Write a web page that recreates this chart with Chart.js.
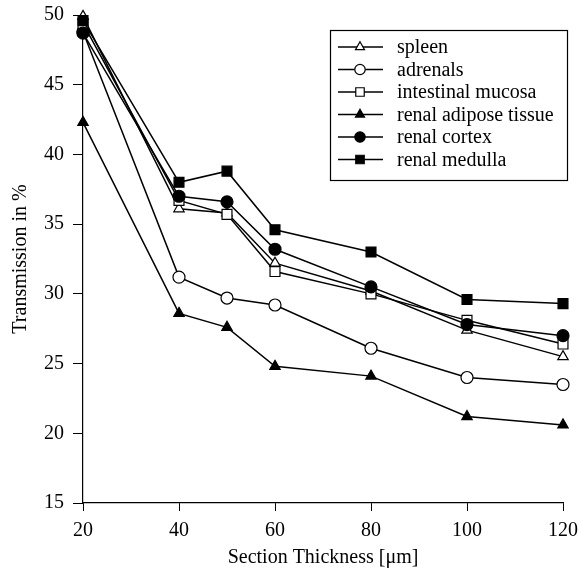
<!DOCTYPE html>
<html>
<head>
<meta charset="utf-8">
<script src="https://cdn.jsdelivr.net/npm/chart.js@4/dist/chart.umd.min.js"></script>
<style>
  body { margin: 0; background: #fff; }
  canvas { display: block; }
</style>
</head>
<body>
<canvas id="chart" width="578" height="572"></canvas>
<script>
// -----Data
var thickness = [20, 40, 50, 60, 80, 100, 120]
var xTicks = [20, 40, 60, 80, 100, 120]
var yTicks = [15, 20, 25, 30, 35, 40, 45, 50]

var spleen = [49.9, 36.1, 35.8, 32.2, 30.2, 27.4, 25.5]
var adrenals = [48.8, 31.2, 29.7, 29.2, 26.1, 24.0, 23.5]
var intestinalMucosa = [49.4, 36.7, 35.7, 31.6, 30.0, 28.1, 26.4]
var renalAdipose = [42.3, 28.6, 27.6, 24.8, 24.1, 21.2, 20.6]
var renalCortex = [48.7, 37.0, 36.6, 33.2, 30.5, 27.8, 27.0]
var renalMedulla = [49.6, 38.0, 38.8, 34.6, 33.0, 29.6, 29.3]

var seriesNames = ['spleen', 'adrenals', 'intestinal mucosa', 'renal adipose tissue', 'renal cortex', 'renal medulla']

var FONT = 'Liberation Serif'

// -----Build datasets
function makeSet(label, values, style, filled, order) {
  return {
    label: label,
    data: values.map(function (v, i) { return { x: thickness[i], y: v } }),
    borderColor: '#000',
    borderWidth: 1.5,
    pointStyle: style,
    pointRadius: style === 'rect' ? 7 : 6,
    pointBorderWidth: 1.2,
    pointBorderColor: '#000',
    pointBackgroundColor: filled ? '#000' : '#fff',
    tension: 0,
    fill: false,
    clip: false,
    order: order   // lower order is drawn on top
  }
}

var datasets = [
  makeSet(seriesNames[0], spleen, 'triangle', false, 5),
  makeSet(seriesNames[1], adrenals, 'circle', false, 4),
  makeSet(seriesNames[2], intestinalMucosa, 'rect', false, 3),
  makeSet(seriesNames[3], renalAdipose, 'triangle', true, 2),
  makeSet(seriesNames[4], renalCortex, 'circle', true, 1),
  makeSet(seriesNames[5], renalMedulla, 'rect', true, 0)
]

// -----Boxed legend like the original figure
var boxLegend = {
  id: 'boxLegend',
  afterDraw: function (chart) {
    var ctx = chart.ctx
    var left = 330, top = 30, w = 237, h = 150
    ctx.save()
    ctx.strokeStyle = '#000'
    ctx.lineWidth = 1.2
    ctx.strokeRect(left + 0.5, top + 0.5, w, h)
    ctx.font = '20px "' + FONT + '"'
    ctx.textBaseline = 'middle'
    chart.data.datasets.forEach(function (ds, i) {
      var y = top + 17 + i * 22.5
      ctx.beginPath()
      ctx.moveTo(338, y)
      ctx.lineTo(383, y)
      ctx.lineWidth = 1.5
      ctx.strokeStyle = '#000'
      ctx.stroke()
      ctx.fillStyle = ds.pointBackgroundColor
      ctx.lineWidth = 1.2
      Chart.helpers.drawPoint(ctx, {
        pointStyle: ds.pointStyle,
        radius: ds.pointStyle === 'rect' ? 6 : 5.2,
        rotation: 0,
        borderWidth: 1.2
      }, 360, y)
      ctx.fillStyle = '#000'
      ctx.fillText(ds.label, 397, y + 1)
    })
    ctx.restore()
  }
}

// -----Chart
var ctx = document.getElementById('chart')
var myChart = new Chart(ctx, {
  type: 'line',
  data: { datasets: datasets },
  plugins: [boxLegend],
  options: {
    responsive: false,
    animation: false,
    layout: { padding: { top: 15, right: 15, left: 0, bottom: 0 } },
    plugins: {
      legend: { display: false },
      tooltip: { enabled: false }
    },
    scales: {
      x: {
        type: 'linear',
        min: 20,
        max: 120,
        afterBuildTicks: function (scale) {
          scale.ticks = xTicks.map(function (v) { return { value: v } })
        },
        afterFit: function (scale) {
          scale.height = 69
          scale.paddingLeft = 0
          scale.paddingRight = 0
        },
        grid: { drawOnChartArea: false, drawTicks: true, tickLength: 8, color: '#000' },
        border: { color: '#000', width: 1.2 },
        ticks: { color: '#000', padding: 8, maxRotation: 0, font: { family: FONT, size: 20 } },
        title: {
          display: true,
          text: 'Section Thickness [\u03bcm]',
          color: '#000',
          padding: { top: 0, bottom: 2 },
          font: { family: FONT, size: 20 }
        }
      },
      y: {
        type: 'linear',
        min: 15,
        max: 50,
        afterBuildTicks: function (scale) {
          scale.ticks = yTicks.map(function (v) { return { value: v } })
        },
        afterFit: function (scale) {
          scale.width = 83
          scale.paddingTop = 0
          scale.paddingBottom = 0
        },
        grid: { drawOnChartArea: false, drawTicks: true, tickLength: 10, color: '#000' },
        border: { color: '#000', width: 1.2 },
        ticks: { color: '#000', padding: 9, font: { family: FONT, size: 20 } },
        title: {
          display: true,
          text: 'Transmission in %',
          color: '#000',
          padding: { top: 9, bottom: 0 },
          font: { family: FONT, size: 20 }
        }
      }
    }
  }
})
</script>
</body>
</html>
